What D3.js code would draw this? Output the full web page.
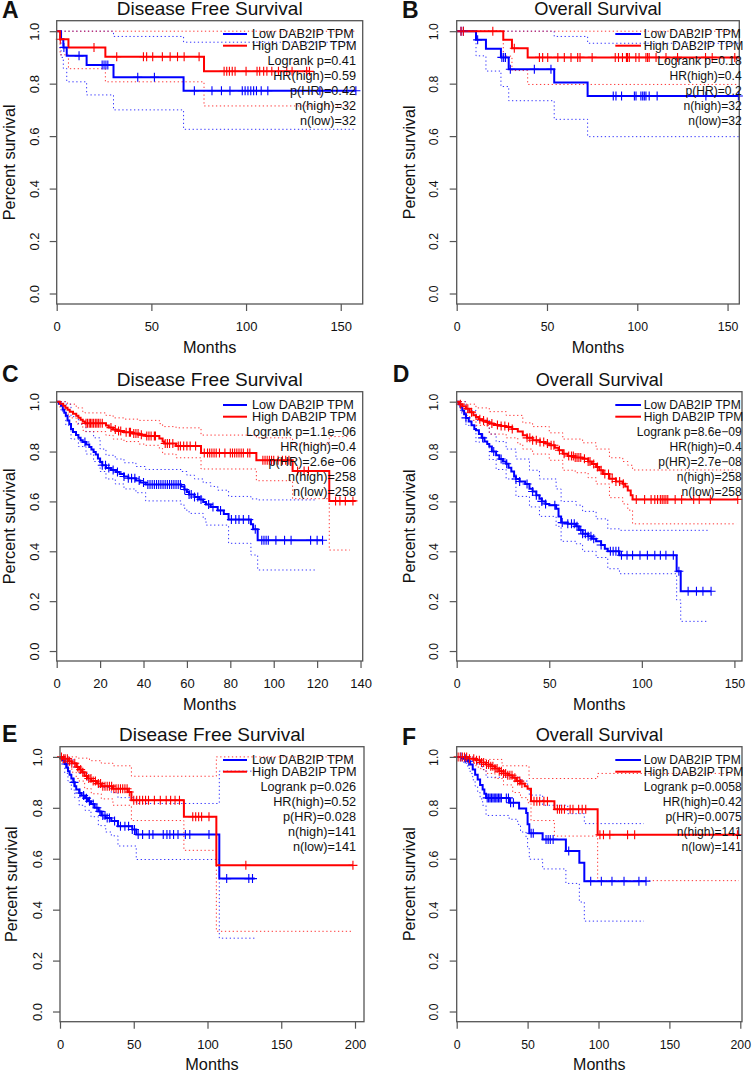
<!DOCTYPE html>
<html><head><meta charset="utf-8">
<script src="https://cdn.jsdelivr.net/npm/d3@7"></script>
<style>
body{margin:0;background:#fff}
svg{display:block}
text{font-family:"Liberation Sans",Arial,Helvetica,sans-serif;fill:#111}
</style>
</head><body>
<script>
// ---------------- DATA ----------------
const yTicks = [0, 0.2, 0.4, 0.6, 0.8, 1.0];
const xTicks150 = [0, 50, 100, 150];
const xTicks140 = [0, 20, 40, 60, 80, 100, 120, 140];
const xTicks200 = [0, 50, 100, 150, 200];
const xLimits = {A:161.6, B:156.5, C:141, D:154.1, E:206.1, F:201.2};
const titles = {A:"Disease Free Survival", B:"Overall Survival", C:"Disease Free Survival",
                D:"Overall Survival", E:"Disease Free Survival", F:"Overall Survival"};
const legendLabels = ["Low DAB2IP TPM", "High DAB2IP TPM"];

// Panel A
const A_low = [[0,1],[2.3,0.969],[3.5,0.938],[5.3,0.906],[15.8,0.871],[30,0.824],[67,0.773],[158,0.773]];
const A_high = [[0,1],[1.8,0.969],[6.2,0.938],[25.7,0.903],[77.8,0.847],[133.5,0.847]];
const A_lowUp = [[0,1],[30,0.98],[67,0.958],[158,0.958]];
const A_lowLo = [[0,1],[2.3,0.9],[3.5,0.858],[5.3,0.807],[15.8,0.757],[30,0.70],[67,0.626],[158,0.626]];
const A_highUp = [[0,1],[158,1]];
const A_highLo = [[0,1],[1.8,0.91],[6.2,0.857],[25.7,0.807],[77.8,0.715],[158,0.715]];
const A_lowCens = [3.8,11.8,24,25,26,27,42.8,51.6,72.7,82,87,91.5,98,99.5,101,102.5,104,105.5,108,111.5,139,158];
const A_highCens = [1.9,19.7,31.7,45.8,47.5,50.7,55.8,59.9,63.8,67.3,75.2,88.4,89.8,91.2,92.7,94.2,100,105.8,107.2,109.3,111,113.6,117.1,121.5,124.3,132,133.5];
const A_stats = ["Logrank p=0.41","HR(high)=0.59","p(HR)=0.42","n(high)=32","n(low)=32"];

// Panel B
const B_low = [[0,1],[10.7,0.967],[16.2,0.933],[24.5,0.90],[28.8,0.855],[54,0.804],[72.5,0.753],[156.5,0.753]];
const B_high = [[0,1],[25.8,0.967],[30.6,0.935],[39.3,0.90],[156.5,0.90]];
const B_lowUp = [[0,1],[54,0.98],[72.5,0.954],[156.5,0.954]];
const B_lowLo = [[0,1],[10.7,0.906],[16.2,0.848],[24.5,0.789],[28.8,0.735],[54,0.664],[72.5,0.598],[156.5,0.598]];
const B_highUp = [[0,1],[156.5,1]];
const B_highLo = [[0,1],[25.8,0.905],[30.6,0.85],[39.3,0.797],[156.5,0.797]];
const B_lowCens = [2.4,3.7,11.6,25,26,27,29.7,43,52.2,86.7,88.2,91.3,98.4,99.3,102,103,103.9,104.8,106.6,111,138,156];
const B_highCens = [2.4,3.7,20,31.9,45.8,47.6,50.4,56,59.6,63.3,67,68.3,75,87.8,89.6,91.8,94,94.6,95.6,99.2,101,104.8,105.7,106.6,110.4,115.9,122.3,137.8,141.5,154];
const B_stats = ["Logrank p=0.18","HR(high)=0.4","p(HR)=0.2","n(high)=32","n(low)=32"];

// Panel C
const C_low = [[0,1],[1,0.992],[2,0.984],[2.8,0.968],[3.5,0.956],[4.2,0.944],[5,0.925],[5.8,0.91],[6.6,0.89],[7.5,0.878],[8.9,0.866],[10,0.855],[11,0.845],[12,0.838],[13.5,0.828],[15,0.818],[16,0.808],[17,0.798],[18,0.788],[19,0.772],[20,0.758],[21,0.745],[22.7,0.734],[25,0.726],[27.3,0.718],[29,0.71],[31,0.7],[33,0.693],[36.5,0.684],[38.5,0.676],[41,0.668],[57.3,0.66],[58.8,0.648],[60,0.638],[61,0.628],[63.5,0.618],[65.7,0.608],[67.5,0.598],[68.8,0.588],[71,0.578],[74.2,0.564],[77,0.55],[79.2,0.527],[89.5,0.508],[90.5,0.488],[92.6,0.444],[122.5,0.444]];
const C_high = [[0,1],[1.5,0.992],[3,0.984],[4,0.976],[5,0.968],[6,0.96],[7.5,0.952],[9,0.944],[10,0.936],[11,0.928],[12,0.92],[13,0.913],[22.7,0.904],[24,0.896],[26,0.888],[28,0.882],[31,0.877],[35,0.872],[38,0.867],[41,0.862],[47.3,0.852],[48.8,0.84],[49.5,0.832],[55,0.822],[66.5,0.794],[92,0.765],[108.7,0.722],[125.6,0.602],[137.8,0.602]];
const C_lowUp = [[0,1],[4,0.99],[6.6,0.94],[10,0.91],[13.5,0.88],[17,0.855],[20,0.81],[22.7,0.785],[27,0.77],[31,0.755],[36.5,0.74],[41,0.728],[57.3,0.72],[60,0.705],[63.5,0.69],[67.5,0.675],[71,0.66],[74.2,0.645],[79.2,0.62],[89.5,0.61],[92.6,0.606],[120,0.606]];
const C_lowLo = [[0,1],[2,0.96],[4.2,0.905],[6.6,0.85],[10,0.82],[13.5,0.79],[17,0.76],[20,0.72],[22.7,0.69],[27,0.67],[31,0.65],[36.5,0.635],[41,0.602],[57.3,0.585],[59,0.565],[61,0.552],[67.5,0.53],[68.8,0.505],[79.2,0.432],[89.5,0.385],[92.6,0.325],[120,0.325]];
const C_highUp = [[0,1],[5,0.99],[9,0.975],[12,0.96],[13,0.955],[22.7,0.945],[26,0.935],[31,0.93],[38,0.925],[47.3,0.912],[48.8,0.9],[55,0.895],[66.5,0.866],[92,0.855],[108.7,0.83],[125.6,0.86],[135,0.86]];
const C_highLo = [[0,1],[1.5,0.975],[4,0.95],[6,0.935],[9,0.91],[12,0.885],[13,0.88],[22.7,0.865],[26,0.85],[31,0.84],[38,0.83],[41,0.825],[47.3,0.812],[48.8,0.79],[55,0.775],[66.5,0.73],[92,0.683],[108.7,0.611],[125.6,0.405],[135,0.405]];
const C_lowCens = [13,21,22.5,24,26,28,31,33,34.5,36,38,40,42,43,44,45,46,47,48,49,50,51,52,53,54,55,56,57,59,61,62,63.5,65,66.5,70,72,75.5,80.5,82.5,84,86,88.5,91.5,94.5,95.5,96.5,97.5,101,105,108,117,120,122.5];
const C_highCens = [13.5,14.2,15,15.6,16.3,17,17.8,18.5,19.2,20,21,25,27,28.5,29.5,32,33.5,34,35.5,36.5,37.5,39,41.5,42.5,43.5,45,45.5,50,51,52,53.5,56,57,58.5,60,61.5,64,68,69.5,70.5,71.5,72.5,73.5,75,77.5,80,81,82,83,84,85,86,88,89,95,96,97,98,99,100,102,104,105.5,107,111,114,116,128.5,130.5,133,136.5];
const C_stats = ["Logrank p=1.1e\u221206","HR(high)=0.4","p(HR)=2.6e\u221206","n(high)=258","n(low)=258"];

// Panel D
const D_low = [[0,1],[1,0.99],[2,0.98],[3,0.965],[4,0.95],[5,0.935],[6.5,0.92],[8,0.905],[9.5,0.89],[10.4,0.885],[12,0.87],[13.5,0.855],[15,0.84],[16.5,0.83],[17.6,0.82],[19,0.8],[21.3,0.785],[23,0.77],[25,0.76],[26.7,0.751],[28,0.735],[29.5,0.72],[31,0.7],[32,0.69],[34,0.68],[37,0.67],[39.3,0.651],[41,0.64],[43,0.625],[44.7,0.611],[46,0.6],[48,0.59],[50,0.585],[53.7,0.571],[55,0.54],[56.4,0.515],[60,0.51],[64.5,0.5],[66,0.485],[68,0.47],[71,0.46],[73,0.45],[75.3,0.44],[78,0.425],[80,0.41],[81.6,0.4],[87.9,0.384],[118.8,0.32],[121,0.24],[137.4,0.24]];
const D_high = [[0,1],[1.5,0.99],[3,0.982],[5,0.972],[7,0.958],[9,0.946],[10.4,0.939],[12,0.93],[14,0.924],[16,0.918],[17.6,0.912],[20,0.906],[24,0.902],[26.7,0.898],[30,0.89],[33,0.88],[35.7,0.865],[38,0.855],[41,0.845],[45,0.838],[48,0.832],[50,0.825],[53,0.815],[55,0.805],[57.3,0.791],[60,0.782],[64,0.776],[68,0.771],[71,0.76],[73,0.75],[75.3,0.738],[77,0.725],[79,0.71],[82.5,0.691],[86,0.68],[89.7,0.671],[91,0.66],[92.4,0.644],[94,0.625],[95,0.608],[151.8,0.608]];
const D_lowUp = [[0,1],[3,1],[5,0.965],[10.4,0.925],[17.6,0.87],[21.3,0.84],[26.7,0.81],[32,0.77],[39.3,0.725],[44.7,0.69],[53.7,0.65],[56.4,0.6],[64.5,0.585],[68,0.56],[75.3,0.53],[81.6,0.49],[87.9,0.484],[136,0.484]];
const D_lowLo = [[0,1],[2,0.955],[5,0.905],[10.4,0.838],[17.6,0.768],[21.3,0.728],[26.7,0.69],[32,0.62],[39.3,0.578],[44.7,0.54],[53.7,0.5],[56.4,0.44],[64.5,0.43],[68,0.4],[75.3,0.375],[81.6,0.33],[87.9,0.31],[118.8,0.205],[121,0.119],[136,0.119]];
const D_highUp = [[0,1],[5,0.99],[10.4,0.975],[17.6,0.96],[26.7,0.945],[35.7,0.915],[41,0.9],[50,0.875],[57.3,0.85],[68,0.835],[75.3,0.81],[82.5,0.775],[89.7,0.76],[92.4,0.745],[95,0.726],[151,0.726]];
const D_highLo = [[0,1],[3,0.96],[5,0.945],[7,0.925],[10.4,0.905],[17.6,0.87],[26.7,0.855],[33,0.83],[35.7,0.81],[41,0.79],[50,0.765],[57.3,0.725],[64,0.715],[71,0.695],[75.3,0.67],[82.5,0.615],[89.7,0.59],[92.4,0.565],[95,0.51],[151,0.51]];
const D_lowCens = [5,14,20,24,27,32,34,38,41,43,46,48,53,57,60,62,63.5,65,67,68,69.5,71,72.5,74,78,83,84.5,86,87.5,89,92,95,99,103,107,110,113,117,120,125,129.5,133,137.4];
const D_highCens = [2,6,8,12.5,14.5,16.5,19,22,24,26,28,30,38,39.5,41,43,45,47,49,51,52.5,55.5,58,60.5,62,63,64,65,66,67,69,71,72,74,76,78,80,82,84,86,88,90,97,101.5,105,107,108.5,110,111,112,113,114,118,121.5,128,131,137,151.8];
const D_stats = ["Logrank p=8.6e\u221209","HR(high)=0.4","p(HR)=2.7e\u221208","n(high)=258","n(low)=258"];

// Panel E
const E_low = [[0,1],[1,0.993],[2,0.986],[3.2,0.972],[4.5,0.958],[5.4,0.944],[6.5,0.93],[7.7,0.915],[9,0.9],[10,0.885],[11,0.872],[13,0.858],[14.5,0.848],[17,0.838],[19,0.826],[21,0.815],[23.5,0.8],[26,0.786],[28,0.77],[31,0.76],[34.8,0.748],[39.3,0.728],[49,0.715],[51.7,0.695],[108,0.522],[132,0.522]];
const E_high = [[0,1],[2,0.993],[5.4,0.983],[8,0.975],[11,0.96],[13,0.95],[15,0.94],[16.7,0.925],[19,0.915],[21.2,0.905],[25,0.895],[28,0.885],[35.9,0.875],[46,0.862],[48.4,0.83],[84,0.765],[106,0.574],[198.6,0.574]];
const E_lowUp = [[0,1],[5.4,0.99],[9,0.96],[13,0.935],[19,0.905],[26,0.88],[34.8,0.86],[39.3,0.84],[51.7,0.817],[108,0.944],[132,0.944]];
const E_lowLo = [[0,1],[3.2,0.935],[5.4,0.905],[7.7,0.87],[10,0.84],[13,0.81],[17,0.79],[21,0.765],[26,0.73],[31,0.705],[34.8,0.69],[39.3,0.65],[51.7,0.597],[108,0.288],[132,0.288]];
const E_highUp = [[0,1],[12,0.995],[20,0.985],[28,0.975],[36,0.965],[48.4,0.924],[106,1],[198.6,1]];
const E_highLo = [[0,1],[2,0.975],[5.4,0.955],[8,0.94],[11,0.915],[13,0.905],[16.7,0.875],[21.2,0.855],[28,0.835],[35.9,0.81],[48.4,0.75],[84,0.633],[106,0.315],[197.7,0.315]];
const E_lowCens = [4,9.5,13.5,16,18,20,22.5,25,27,29,30.5,32,33.5,37,41,44,46.5,49,50.5,53,56,60.5,63,70,72.5,74.5,77,80,85,88,101,113,128,130.5];
const E_highCens = [1,2.5,3.5,5,6.5,8,10,12,14,15.5,18,19.5,21,22.5,24,26,27.5,29,30.5,32,33.5,35,36.5,38,39.5,41,42.5,44,45.5,47,50,52,54,56,58,60,64,68,72,75,78,81,90,92,94,96,101,126,198.6];
const E_stats = ["Logrank p=0.026","HR(high)=0.52","p(HR)=0.028","n(high)=141","n(low)=141"];

// Panel F
const F_low = [[0,1],[5,0.993],[7.8,0.983],[9.5,0.97],[11.3,0.95],[13,0.93],[14.8,0.911],[16.5,0.89],[18.3,0.872],[19.5,0.855],[20.7,0.839],[37,0.82],[44,0.797],[49,0.78],[50,0.735],[51.2,0.70],[60.6,0.676],[77,0.63],[86.5,0.584],[90,0.512],[133.5,0.512]];
const F_high = [[0,1],[7.8,0.993],[13.6,0.987],[17,0.978],[20.7,0.97],[24,0.963],[27,0.954],[30,0.944],[33,0.935],[36,0.928],[39.5,0.918],[42,0.905],[45,0.895],[48,0.885],[50,0.875],[52.4,0.826],[68.9,0.794],[99.4,0.694],[199.3,0.694]];
const F_lowUp = [[0,1],[11.3,0.99],[14.8,0.97],[18.3,0.95],[20.7,0.92],[45,0.905],[50,0.875],[51.2,0.85],[60.6,0.81],[78.3,0.777],[90,0.738],[132,0.738]];
const F_lowLo = [[0,1],[5,0.975],[7.8,0.955],[9.5,0.935],[11.3,0.91],[13,0.885],[14.8,0.86],[16.5,0.835],[18.3,0.81],[20.7,0.77],[37,0.755],[43,0.735],[45,0.705],[48.9,0.685],[50,0.64],[51.2,0.598],[60.6,0.56],[77,0.503],[86.5,0.43],[90,0.355],[132,0.355]];
const F_highUp = [[0,1],[13.6,0.99],[32,0.965],[51,0.915],[99.4,0.935],[199,0.935]];
const F_highLo = [[0,1],[7.8,0.975],[13.6,0.96],[17,0.95],[20.7,0.935],[27,0.915],[33,0.89],[39.5,0.86],[45,0.84],[50,0.82],[52.4,0.75],[68.9,0.689],[99.4,0.514],[199,0.514]];
const F_lowCens = [3,6,8.5,21.5,22.5,23.5,24.5,25.5,26.5,27.5,28.5,29.5,30.5,31.5,35,36.5,38,40,52.5,54,63,64.5,66,68,79,94.5,102,109.5,118,128.5,133.5];
const F_highCens = [1,2.5,4,5.5,7,9,12,14,16,17.5,19,21,22.5,24,25.5,27,28.5,30,31.5,33,34.5,36,37.5,39,41,43,44.5,46,54.5,56.5,58.5,61.5,64,71,72.5,74,76,80,82,86,88.5,91,101,103.5,108,120.5,125.5,198];
const F_stats = ["Logrank p=0.0058","HR(high)=0.42","p(HR)=0.0075","n(high)=141","n(low)=141"];

// ---------------- LAYOUT / STYLE ----------------
const BLUE = "#0000ff", RED = "#ff0000", FRAME = "#555";
const W = 752, H = 1072;

const panels = [
  {key:"A", box:[56.7,20.7,362.7,304], col:0, letter:[2,18], ylab:41.5, xticks:xTicks150,
   low:A_low, high:A_high, lowUp:A_lowUp, lowLo:A_lowLo, highUp:A_highUp, highLo:A_highLo, lowCens:A_lowCens, highCens:A_highCens, stats:A_stats},
  {key:"B", box:[456.7,20.7,739.3,304], col:1, letter:[402,18], ylab:41.5, xticks:xTicks150,
   low:B_low, high:B_high, lowUp:B_lowUp, lowLo:B_lowLo, highUp:B_highUp, highLo:B_highLo, lowCens:B_lowCens, highCens:B_highCens, stats:B_stats},
  {key:"C", box:[56.7,391.7,362.7,661], col:0, letter:[2,381.7], ylab:41.5, xticks:xTicks140,
   low:C_low, high:C_high, lowUp:C_lowUp, lowLo:C_lowLo, highUp:C_highUp, highLo:C_highLo, lowCens:C_lowCens, highCens:C_highCens, stats:C_stats},
  {key:"D", box:[456.7,391.7,742,661], col:1, letter:[392.7,381.7], ylab:41.5, xticks:xTicks150,
   low:D_low, high:D_high, lowUp:D_lowUp, lowLo:D_lowLo, highUp:D_highUp, highLo:D_highLo, lowCens:D_lowCens, highCens:D_highCens, stats:D_stats},
  {key:"E", box:[60,746.7,364,1021.7], col:0, letter:[2,741.7], ylab:43, xticks:xTicks200,
   low:E_low, high:E_high, lowUp:E_lowUp, lowLo:E_lowLo, highUp:E_highUp, highLo:E_highLo, lowCens:E_lowCens, highCens:E_highCens, stats:E_stats},
  {key:"F", box:[456.7,746.7,742,1021.7], col:1, letter:[402,745], ylab:41.5, xticks:xTicks200,
   low:F_low, high:F_high, lowUp:F_lowUp, lowLo:F_lowLo, highUp:F_highUp, highLo:F_highLo, lowCens:F_lowCens, highCens:F_highCens, stats:F_stats}
];
const cols = [
  {title:19, lab:16.3, tick:13, leg:12.7, statsRight:356, legLine:[-133,-109], legText:-104},
  {title:18.2, lab:16, tick:12.3, leg:12.1, statsRight:741.7, legLine:[-126.4,-100.7], legText:-98}
];

const svg = d3.select("body").append("svg").attr("width", W).attr("height", H);
svg.append("rect").attr("width", W).attr("height", H).attr("fill", "#fff");

function survAt(steps, t) {
  let s = steps[0][1];
  for (const [ti, si] of steps) { if (ti <= t) s = si; else break; }
  return s;
}

panels.forEach(p => {
  const c = cols[p.col];
  const [x0, y0, x1, y1] = p.box;
  const x = d3.scaleLinear().domain([0, xLimits[p.key]]).range([x0, x1]);
  const y = d3.scaleLinear().domain([-0.04, 1.04]).range([y1, y0]);
  const line = d3.line().x(d => x(d[0])).y(d => y(d[1])).curve(d3.curveStepAfter);
  const g = svg.append("g");

  // confidence bands (dotted)
  [[p.lowUp, BLUE], [p.lowLo, BLUE], [p.highUp, RED], [p.highLo, RED]].forEach(([d, col]) => {
    g.append("path").attr("d", line(d)).attr("fill", "none").attr("stroke", col)
      .attr("stroke-width", 1).attr("stroke-dasharray", "1.3,2.6").attr("opacity", 0.8);
  });
  // survival curves
  [[p.low, BLUE], [p.high, RED]].forEach(([d, col]) => {
    g.append("path").attr("d", line(d)).attr("fill", "none").attr("stroke", col).attr("stroke-width", 2);
  });
  // censor marks
  [[p.lowCens, p.low, BLUE], [p.highCens, p.high, RED]].forEach(([cens, steps, col]) => {
    const dd = cens.map(t => {
      const cx = x(t), cy = y(survAt(steps, t));
      return `M${cx - 4.5},${cy}H${cx + 4.5}M${cx},${cy - 4.5}V${cy + 4.5}`;
    }).join("");
    g.append("path").attr("d", dd).attr("fill", "none").attr("stroke", col).attr("stroke-width", 1.1);
  });

  // frame
  g.append("rect").attr("x", x0).attr("y", y0).attr("width", x1 - x0).attr("height", y1 - y0)
    .attr("fill", "none").attr("stroke", FRAME).attr("stroke-width", 1.3);

  // x axis
  const gx = g.append("g").attr("transform", `translate(0,${y1})`)
    .call(d3.axisBottom(x).tickValues(p.xticks).tickSize(7).tickFormat(d3.format("d")));
  gx.select(".domain").remove();
  gx.selectAll(".tick line").attr("stroke", FRAME).attr("stroke-width", 1.2);
  gx.selectAll(".tick text").attr("y", 22.5).attr("dy", "0.36em")
    .style("font-size", c.tick + "px").style("font-family", "'Liberation Sans',Arial,sans-serif").attr("fill", "#111");

  // y axis
  const gy = g.append("g").attr("transform", `translate(${x0},0)`)
    .call(d3.axisLeft(y).tickValues(yTicks).tickSize(7).tickFormat(d3.format(".1f")));
  gy.select(".domain").remove();
  gy.selectAll(".tick line").attr("stroke", FRAME).attr("stroke-width", 1.2);
  gy.selectAll(".tick text").attr("x", null).attr("dy", null).attr("y", null)
    .attr("transform", "translate(-22.5,0) rotate(-90)").attr("text-anchor", "middle")
    .attr("dominant-baseline", "central")
    .style("font-size", c.tick + "px").style("font-family", "'Liberation Sans',Arial,sans-serif").attr("fill", "#111");

  // titles & labels
  const cx = (x0 + x1) / 2, cy = (y0 + y1) / 2;
  g.append("text").attr("x", cx).attr("y", y0 - 5.5).attr("text-anchor", "middle")
    .style("font-size", c.title + "px").text(titles[p.key]);
  g.append("text").attr("x", cx).attr("y", y1 + 48.5).attr("text-anchor", "middle")
    .style("font-size", c.lab + "px").text("Months");
  g.append("text").attr("transform", `translate(${x0 - p.ylab},${cy}) rotate(-90)`).attr("text-anchor", "middle")
    .style("font-size", c.lab + "px").text("Percent survival");
  g.append("text").attr("x", p.letter[0]).attr("y", p.letter[1]).style("font-size", "23px")
    .style("font-weight", "bold").text(p.key);

  // legend
  const R = c.statsRight;
  [[BLUE, legendLabels[0], 13.3], [RED, legendLabels[1], 25]].forEach(([col, lab, dy]) => {
    g.append("line").attr("x1", R + c.legLine[0]).attr("x2", R + c.legLine[1])
      .attr("y1", y0 + dy).attr("y2", y0 + dy).attr("stroke", col).attr("stroke-width", 2);
    g.append("text").attr("x", R + c.legText).attr("y", y0 + dy).attr("dominant-baseline", "central")
      .style("font-size", c.leg + "px").text(lab);
  });
  p.stats.forEach((s, i) => {
    g.append("text").attr("x", R).attr("y", y0 + 40.6 + i * 14.85).attr("text-anchor", "end")
      .attr("dominant-baseline", "central").style("font-size", c.leg + "px").text(s);
  });
});
</script>
</body></html>
